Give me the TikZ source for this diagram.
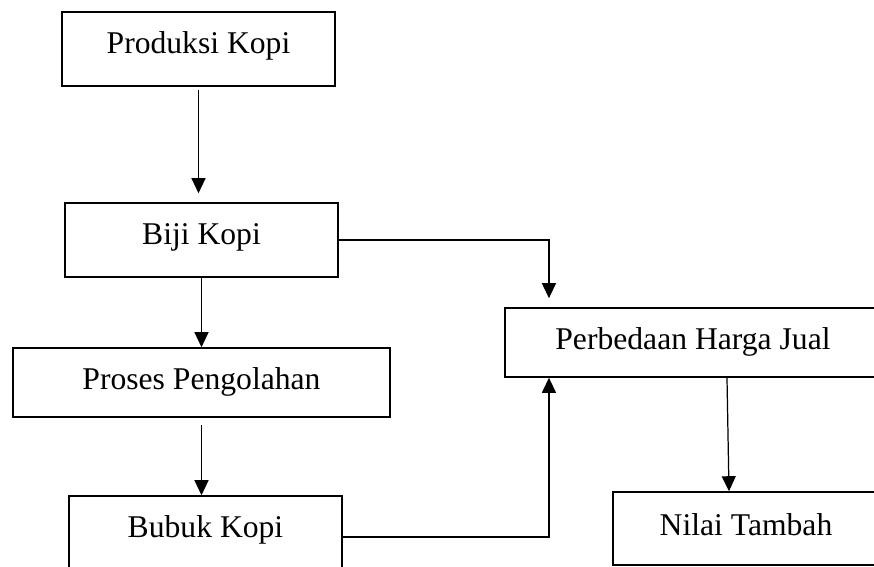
\documentclass[tikz,border=0pt]{standalone}
\usepackage{fontspec}
\setmainfont{Liberation Serif}
\usepackage{tikz}
\usetikzlibrary{shapes,arrows.meta}
\tikzstyle{block} = [draw, rectangle, line width=0.9pt, minimum width=5.46cm, minimum height=1.48cm, text height=0.43cm, text depth=0.26cm, font=\fontsize{18}{22}\selectfont]
\tikzstyle{flatblock} = [block, minimum width=7.53cm, minimum height=1.38cm, text depth=0.14cm]

\begin{document}
\begin{tikzpicture}[>={Triangle[length=0.3cm,width=0.28cm]}, line width=0.7pt]
    \clip (0,0) rectangle (17.48,-11.34);
    \node [block] (prod) at (3.97,-0.98) {Produksi Kopi};
    \node [block, below of=prod, node distance=3.82cm, xshift=0.06cm] (biji) {Biji Kopi};
    \node [flatblock, below of=biji, node distance=2.85cm] (proses) {Proses Pengolahan};
    \node [block, below of=proses, node distance=3.01cm, xshift=0.08cm] (bubuk) {Bubuk Kopi};
    \node [flatblock, right of=proses, node distance=9.83cm, yshift=0.8cm] (perb) {Perbedaan Harga Jual};
    \node [block, below of=perb, node distance=3.72cm, xshift=1.06cm, minimum width=5.32cm, minimum height=1.46cm, text depth=0.14cm] (nilai) {Nilai Tambah};
    \draw [->, shorten <=0.06cm, shorten >=0.18cm] (prod.south) -- (prod.south |- biji.north);
    \draw [->] (biji.south) -- (biji.south |- proses.north);
    \draw [->, shorten <=0.14cm] (proses.south) -- (proses.south |- bubuk.north);
    \draw [->, shorten >=0.18cm] (biji.east) -| ([xshift=0.9cm]perb.north west);
    %\draw [->] (bubuk.east) -| (perb.south);
    \draw [->] ([yshift=-0.08cm]bubuk.east) -| ([xshift=0.9cm]perb.south west);
    \draw [->] ([xshift=0.68cm]perb.south) -- ([xshift=-0.34cm]nilai.north);
\end{tikzpicture}
\end{document}
